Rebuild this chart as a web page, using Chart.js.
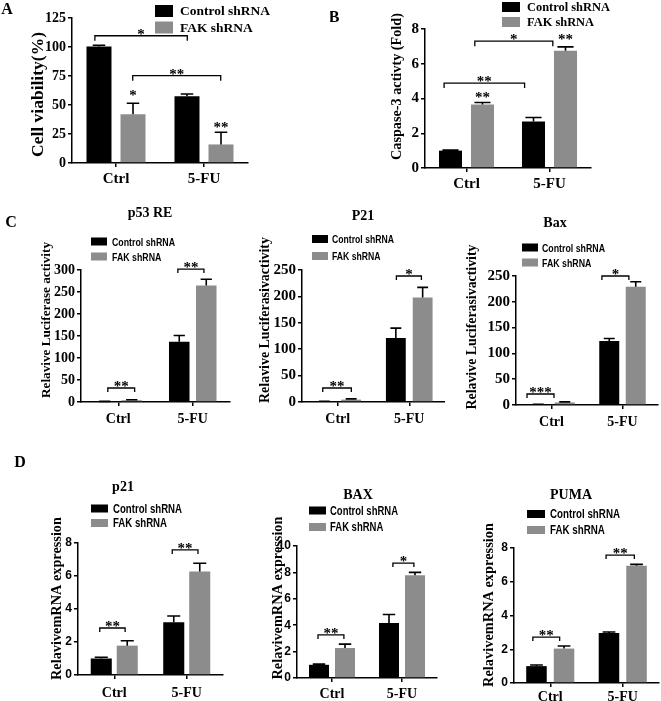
<!DOCTYPE html>
<html><head><meta charset="utf-8">
<script src="https://cdn.jsdelivr.net/npm/chart.js@4.4.1/dist/chart.umd.min.js"></script>
<style>
html,body{margin:0;padding:0;background:#fff;}
body{width:661px;height:701px;position:relative;overflow:hidden;}
canvas{position:absolute;}
</style></head><body>
<script>
// ---------- DATA ----------
const groups = ['Ctrl', '5-FU'];
const seriesNames = ['Control shRNA', 'FAK shRNA'];

// A: cell viability (%)
const aControl = [100.5, 57.5];
const aControlErr = [1, 2];
const aFak = [42, 16];
const aFakErr = [9.5, 10.5];

// B: caspase-3 activity (fold)
const bControl = [1.0, 2.68];
const bControlErr = [0.03, 0.23];
const bFak = [3.65, 6.75];
const bFakErr = [0.12, 0.22];

// C: relative luciferase activity
const c1Control = [1, 137];
const c1ControlErr = [0.5, 14];
const c1Fak = [4, 265];
const c1FakErr = [1, 14];

const c2Control = [1, 121];
const c2ControlErr = [0.5, 19];
const c2Fak = [4.5, 198];
const c2FakErr = [1.5, 19];

const c3Control = [1, 124];
const c3ControlErr = [0.5, 5];
const c3Fak = [5, 229];
const c3FakErr = [1, 10];

// D: relative mRNA expression
const d1Control = [1.0, 3.2];
const d1ControlErr = [0.08, 0.38];
const d1Fak = [1.78, 6.27];
const d1FakErr = [0.3, 0.5];

const d2Control = [1.0, 4.16];
const d2ControlErr = [0.05, 0.65];
const d2Fak = [2.27, 7.78];
const d2FakErr = [0.3, 0.22];

const d3Control = [1.0, 2.97];
const d3ControlErr = [0.07, 0.05];
const d3Fak = [2.04, 6.95];
const d3FakErr = [0.15, 0.08];

// ---------- STYLE / LAYOUT ----------
const SERIF = "'Liberation Serif','Times New Roman',serif";
const SANS = "'Liberation Sans',Arial,sans-serif";
const BLACK = '#000000', GRAY = '#8c8c8c';

function widthAt(ctx, s, font) { ctx.font = font; return ctx.measureText(s).width; }

function decor(p) {
  return {
    id: 'decor',
    afterDraw(chart) {
      const ctx = chart.ctx;
      const cx = p.canvas[0], cy = p.canvas[1];
      const X = v => v - cx, Y = v => v - cy;
      const xs = chart.scales.x, ys = chart.scales.y;
      ctx.save();
      ctx.strokeStyle = BLACK; ctx.fillStyle = BLACK;
      // error bars
      chart.data.datasets.forEach((ds, di) => {
        const meta = chart.getDatasetMeta(di);
        meta.data.forEach((bar, i) => {
          const v = ds.data[i], e = ds.errs[i];
          const yt = ys.getPixelForValue(v + e);
          const yb = ys.getPixelForValue(v);
          const hw = bar.width * p.capFrac / 2;
          ctx.lineWidth = 1.6;
          ctx.beginPath();
          ctx.moveTo(bar.x, yb); ctx.lineTo(bar.x, yt);
          ctx.moveTo(bar.x - hw, yt); ctx.lineTo(bar.x + hw, yt);
          ctx.stroke();
        });
      });
      // significance brackets
      const catW = xs.getPixelForValue(1) - xs.getPixelForValue(0);
      const px = u => xs.getPixelForValue(0) + u * catW;
      ctx.textAlign = 'center'; ctx.textBaseline = 'alphabetic';
      p.brackets.forEach(b => {
        const x1 = px(b[0]), x2 = px(b[1]), y = ys.getPixelForValue(b[2]);
        ctx.lineWidth = 1.3;
        ctx.beginPath();
        ctx.moveTo(x1, y + p.bt); ctx.lineTo(x1, y); ctx.lineTo(x2, y); ctx.lineTo(x2, y + p.bt);
        ctx.stroke();
        ctx.font = `bold ${p.starSize}px ${SERIF}`;
        ctx.fillText(b[3], (x1 + x2) / 2, y + 3);
      });
      (p.barStars || []).forEach(s => {
        const bar = chart.getDatasetMeta(s[1]).data[s[0]];
        ctx.font = `bold ${p.starSize}px ${SERIF}`;
        ctx.fillText(s[3], bar.x, ys.getPixelForValue(s[2]) + 7);
      });
      // legend
      const L = p.legend;
      let scaleX = 1, lfont;
      if (L.kind === 'serif') {
        const w100 = widthAt(ctx, seriesNames[0], `bold 100px ${SERIF}`);
        lfont = `bold ${(100 * L.target / w100).toFixed(2)}px ${SERIF}`;
      } else {
        lfont = `bold ${L.size}px ${SANS}`;
        scaleX = L.target / widthAt(ctx, seriesNames[0], lfont);
      }
      L.rows.forEach((ry, k) => {
        ctx.fillStyle = k ? GRAY : BLACK;
        ctx.fillRect(X(L.sqX), Y(ry) - L.sq[1] / 2, L.sq[0], L.sq[1]);
        ctx.fillStyle = BLACK;
        ctx.save();
        ctx.font = lfont; ctx.textAlign = 'left'; ctx.textBaseline = 'middle';
        ctx.translate(X(L.tx), Y(ry) + 1);
        ctx.scale(scaleX, 1);
        ctx.fillText(seriesNames[k], 0, 0);
        ctx.restore();
      });
      // chart title
      if (p.title) {
        ctx.font = `bold 14px ${SERIF}`; ctx.textAlign = 'center'; ctx.textBaseline = 'middle';
        ctx.fillText(p.title.text, X(p.title.x), Y(p.title.y));
      }
      // y-axis title
      const T = p.ytitle;
      const tw = widthAt(ctx, T.text, `bold 100px ${SERIF}`);
      ctx.save();
      ctx.font = `bold ${(100 * T.len / tw).toFixed(2)}px ${SERIF}`;
      ctx.textAlign = 'center'; ctx.textBaseline = 'middle';
      ctx.translate(X(T.x), Y(T.y));
      ctx.rotate(-Math.PI / 2);
      ctx.fillText(T.text, 0, 0);
      ctx.restore();
      // panel letter
      if (p.letter) {
        ctx.font = `bold 16px ${SERIF}`; ctx.textAlign = 'center'; ctx.textBaseline = 'middle';
        ctx.fillText(p.letter.t, X(p.letter.x), Y(p.letter.y));
      }
      ctx.restore();
    }
  };
}

function makePanel(p) {
  const [cx, cy, cw, ch] = p.canvas;
  const cv = document.createElement('canvas');
  cv.width = cw; cv.height = ch;
  cv.style.left = cx + 'px'; cv.style.top = cy + 'px';
  cv.style.width = cw + 'px'; cv.style.height = ch + 'px';
  document.body.appendChild(cv);
  const [pl, pt, pr, pb] = p.plot;
  const YW = 30;
  const pad = { left: pl - cx - YW, top: pt - cy, right: cx + cw - pr, bottom: cy + ch - pb - p.xh };
  new Chart(cv, {
    type: 'bar',
    data: {
      labels: groups,
      datasets: [
        { label: seriesNames[0], data: p.vals[0], errs: p.errs[0], backgroundColor: BLACK,
          categoryPercentage: p.catPct, barPercentage: p.barPct },
        { label: seriesNames[1], data: p.vals[1], errs: p.errs[1], backgroundColor: GRAY,
          categoryPercentage: p.catPct, barPercentage: p.barPct }
      ]
    },
    options: {
      responsive: false, animation: false, devicePixelRatio: 1,
      layout: { padding: pad },
      plugins: { legend: { display: false }, tooltip: { enabled: false }, title: { display: false } },
      scales: {
        x: {
          offset: true,
          grid: { offset: false, drawOnChartArea: false, tickLength: 4, color: BLACK, lineWidth: 1.5 },
          border: { color: BLACK, width: 1.5 },
          ticks: { color: BLACK, font: { family: SERIF, weight: 'bold', size: p.xFont }, padding: p.xPad, maxRotation: 0, autoSkip: false },
          afterFit: s => { s.height = p.xh; }
        },
        y: {
          min: 0, max: p.yMax,
          ticks: { stepSize: p.yStep, color: BLACK, font: { family: p.yFam, weight: 'bold', size: p.ySize }, padding: 2 },
          grid: { drawOnChartArea: false, tickLength: 4, color: BLACK, lineWidth: 1.5 },
          border: { color: BLACK, width: 1.5 },
          afterFit: s => { s.width = YW; }
        }
      }
    },
    plugins: [decor(p)]
  });
}

const panels = [
  { canvas: [0, 0, 330, 195], plot: [72, 18, 248, 163], xh: 25, yMax: 125, yStep: 25, yFam: SERIF, ySize: 14,
    xFont: 15, xPad: 3, catPct: 0.773, barPct: 0.735, capFrac: 0.5, starSize: 15, bt: 5,
    vals: [aControl, aFak], errs: [aControlErr, aFakErr],
    brackets: [[-0.24, 0.81, 109.7, '*'], [0.19, 1.19, 75.3, '**']],
    barStars: [[0, 1, 60.6, '*'], [1, 1, 33, '**']],
    legend: { kind: 'serif', sqX: 155, sq: [18, 12], tx: 180, rows: [11, 27.5], target: 90 },
    ytitle: { text: 'Cell viability(%)', x: 38, y: 94.5, len: 125 },
    letter: { t: 'A', x: 7, y: 10 } },
  { canvas: [330, 0, 331, 195], plot: [425, 29, 591, 168], xh: 25, yMax: 8, yStep: 2, yFam: SERIF, ySize: 15,
    xFont: 15, xPad: 3, catPct: 0.771, barPct: 0.72, capFrac: 0.7, starSize: 15, bt: 5,
    vals: [bControl, bFak], errs: [bControlErr, bFakErr],
    brackets: [[-0.27, 0.70, 4.89, '**'], [0.10, 1.04, 7.3, '*']],
    barStars: [[0, 1, 4.2, '**'], [1, 1, 7.53, '**']],
    legend: { kind: 'serif', sqX: 502, sq: [18, 10], tx: 527, rows: [7, 22], target: 83 },
    ytitle: { text: 'Caspase-3 activty (Fold)', x: 397, y: 86.5, len: 147 },
    letter: { t: 'B', x: 334, y: 18 } },
  { canvas: [0, 195, 235, 235], plot: [81, 270, 230, 402], xh: 25, yMax: 300, yStep: 50, yFam: SERIF, ySize: 14,
    xFont: 14, xPad: 5, catPct: 0.725, barPct: 0.76, capFrac: 0.55, starSize: 15, bt: 4,
    vals: [c1Control, c1Fak], errs: [c1ControlErr, c1FakErr],
    brackets: [[-0.14, 0.22, 31.8, '**'], [0.8, 1.15, 302, '**']],
    legend: { kind: 'sans', size: 11, sqX: 91, sq: [16, 8], tx: 112, rows: [241.5, 256.5], target: 63 },
    title: { text: 'p53 RE', x: 150, y: 213 },
    ytitle: { text: 'Relavive Luciferase activity', x: 47, y: 320, len: 156 },
    letter: { t: 'C', x: 11, y: 223 } },
  { canvas: [235, 195, 210, 235], plot: [302, 270, 446, 402], xh: 25, yMax: 250, yStep: 50, yFam: SERIF, ySize: 15,
    xFont: 14, xPad: 5, catPct: 0.75, barPct: 0.74, capFrac: 0.55, starSize: 15, bt: 4,
    vals: [c2Control, c2Fak], errs: [c2ControlErr, c2FakErr],
    brackets: [[-0.21, 0.19, 26.5, '**'], [0.82, 1.17, 238.6, '*']],
    legend: { kind: 'sans', size: 11, sqX: 312, sq: [16, 8], tx: 332, rows: [239, 256], target: 62 },
    title: { text: 'P21', x: 363, y: 216 },
    ytitle: { text: 'Relavive Luciferasivactivity', x: 265, y: 320, len: 166 } },
  { canvas: [445, 195, 216, 235], plot: [516, 276, 658, 405], xh: 25, yMax: 250, yStep: 50, yFam: SERIF, ySize: 15,
    xFont: 14, xPad: 5, catPct: 0.746, barPct: 0.755, capFrac: 0.55, starSize: 15, bt: 4,
    vals: [c3Control, c3Fak], errs: [c3ControlErr, c3FakErr],
    brackets: [[-0.345, 0.035, 21.3, '***'], [0.71, 1.09, 250, '*']],
    legend: { kind: 'sans', size: 11, sqX: 522, sq: [16, 8], tx: 542, rows: [247.5, 262.5], target: 63 },
    title: { text: 'Bax', x: 555, y: 223 },
    ytitle: { text: 'Relavive Luciferasivactivity', x: 472, y: 327, len: 165 } },
  { canvas: [0, 440, 235, 280], plot: [78, 543, 223, 675], xh: 30, yMax: 8, yStep: 2, yFam: SANS, ySize: 12,
    xFont: 14, xPad: 6, catPct: 0.717, barPct: 0.81, capFrac: 0.62, starSize: 15, bt: 4,
    vals: [d1Control, d1Fak], errs: [d1ControlErr, d1FakErr],
    brackets: [[-0.2, 0.15, 2.85, '**'], [0.8, 1.155, 7.58, '**']],
    legend: { kind: 'sans', size: 12, sqX: 91, sq: [17, 8], tx: 113, rows: [508.5, 523], target: 69 },
    title: { text: 'p21', x: 123, y: 487 },
    ytitle: { text: 'RelavivemRNA expression', x: 57, y: 598.5, len: 163 },
    letter: { t: 'D', x: 20, y: 463 } },
  { canvas: [235, 440, 210, 280], plot: [297, 546, 437, 678], xh: 30, yMax: 10, yStep: 2, yFam: SANS, ySize: 12,
    xFont: 14, xPad: 4, catPct: 0.743, barPct: 0.77, capFrac: 0.62, starSize: 15, bt: 4,
    vals: [d2Control, d2Fak], errs: [d2ControlErr, d2FakErr],
    brackets: [[-0.2, 0.17, 3.26, '**'], [0.87, 1.17, 8.71, '*']],
    legend: { kind: 'sans', size: 12, sqX: 309, sq: [17, 8], tx: 330, rows: [510.5, 527], target: 68 },
    title: { text: 'BAX', x: 358, y: 495 },
    ytitle: { text: 'RelavivemRNA expression', x: 278, y: 598, len: 163 } },
  { canvas: [445, 440, 216, 280], plot: [514, 548, 659, 683], xh: 30, yMax: 8, yStep: 2, yFam: SANS, ySize: 12,
    xFont: 14, xPad: 2, catPct: 0.76, barPct: 0.745, capFrac: 0.62, starSize: 15, bt: 4,
    vals: [d3Control, d3Fak], errs: [d3ControlErr, d3FakErr],
    brackets: [[-0.24, 0.13, 2.72, '**'], [0.77, 1.16, 7.58, '**']],
    legend: { kind: 'sans', size: 12, sqX: 527, sq: [18, 8], tx: 550, rows: [514, 530], target: 70 },
    title: { text: 'PUMA', x: 571, y: 495 },
    ytitle: { text: 'RelavivemRNA expression', x: 489, y: 605, len: 164 } }
];

panels.forEach(makePanel);
</script>
</body></html>
